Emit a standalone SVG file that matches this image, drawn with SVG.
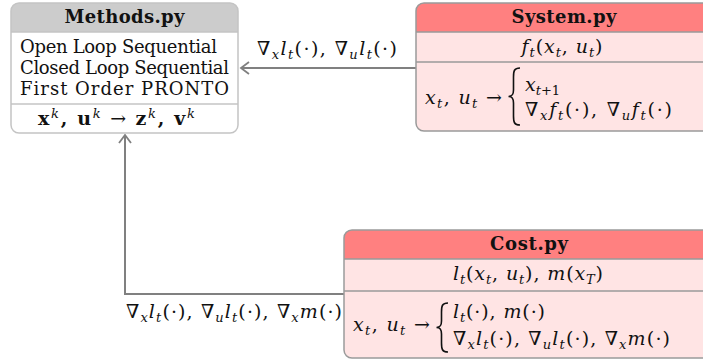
<svg xmlns="http://www.w3.org/2000/svg" width="703" height="363" viewBox="0 0 703 363">
<style>
text{font-family:"DejaVu Serif","Liberation Serif",serif;fill:#111}
.t{font-size:18px}
.h{font-size:18px;font-weight:bold}
.m{font-size:19px}
.i{font-style:italic}
.s{font-size:13px}
.b{font-weight:bold}
.conn{fill:none;stroke:#808080;stroke-width:2}
.brace{fill:none;stroke:#111;stroke-width:1.6}
.gb{stroke:#c4c4c4;stroke-width:1.5}
.rb{stroke:#9a9a9a;stroke-width:1.5}
</style>
<defs>
<marker id="ah" viewBox="-10 -7 12 14" markerWidth="12" markerHeight="14" refX="0" refY="0" orient="auto" markerUnits="userSpaceOnUse">
<path d="M-8,-6 L0,0 L-8,6" fill="none" stroke="#808080" stroke-width="1.8"/>
</marker>
</defs>

<g id="connectors">
<path class="conn" d="M416,68 H241" marker-end="url(#ah)"/>
<path class="conn" d="M344,294 H125 V135" marker-end="url(#ah)"/>
<text class="m" x="327" y="55" text-anchor="middle" textLength="140">∇<tspan class="s i" dy="4">x</tspan><tspan class="i" dy="-4">l</tspan><tspan class="s i" dy="4">t</tspan><tspan dy="-4">(·), ∇</tspan><tspan class="s i" dy="4">u</tspan><tspan class="i" dy="-4">l</tspan><tspan class="s i" dy="4">t</tspan><tspan dy="-4">(·)</tspan></text>
<text class="m" x="126" y="318" textLength="216">∇<tspan class="s i" dy="4">x</tspan><tspan class="i" dy="-4">l</tspan><tspan class="s i" dy="4">t</tspan><tspan dy="-4">(·), ∇</tspan><tspan class="s i" dy="4">u</tspan><tspan class="i" dy="-4">l</tspan><tspan class="s i" dy="4">t</tspan><tspan dy="-4">(·), ∇</tspan><tspan class="s i" dy="4">x</tspan><tspan class="i" dy="-4">m</tspan><tspan>(·)</tspan></text>
</g>

<g id="methods">
<rect x="11" y="3" width="227" height="130" rx="8" fill="#fff"/>
<path d="M11,32 V11 A8,8 0 0 1 19,3 H230 A8,8 0 0 1 238,11 V32 Z" fill="#cccccc"/>
<line class="gb" x1="11" y1="32" x2="238" y2="32"/>
<line class="gb" x1="11" y1="104" x2="238" y2="104"/>
<rect class="gb" x="11" y="3" width="227" height="130" rx="8" fill="none"/>
<text class="h" x="124.5" y="23" text-anchor="middle" textLength="120">Methods.py</text>
<text class="t" x="20" y="53" textLength="197">Open Loop Sequential</text>
<text class="t" x="20" y="74" textLength="209">Closed Loop Sequential</text>
<text class="t" x="20" y="95" textLength="209">First Order PRONTO</text>
<text class="m" x="38" y="125" textLength="157"><tspan class="b">x</tspan><tspan class="s i" dy="-7">k</tspan><tspan class="b" dy="7">, u</tspan><tspan class="s i" dy="-7">k</tspan><tspan dy="7"> → </tspan><tspan class="b">z</tspan><tspan class="s i" dy="-7">k</tspan><tspan class="b" dy="7">, v</tspan><tspan class="s i" dy="-7">k</tspan></text>
</g>

<g id="system">
<rect x="416" y="3" width="296" height="128" rx="8" fill="#ffe4e4"/>
<path d="M416,32 V11 A8,8 0 0 1 424,3 H704 A8,8 0 0 1 712,11 V32 Z" fill="#ff8080"/>
<line class="rb" x1="416" y1="32" x2="712" y2="32"/>
<line class="rb" x1="416" y1="62" x2="712" y2="62"/>
<rect class="rb" x="416" y="3" width="296" height="128" rx="8" fill="none"/>
<text class="h" x="564" y="23" text-anchor="middle" textLength="105">System.py</text>
<text class="m" x="562" y="53" text-anchor="middle" textLength="81"><tspan class="i">f</tspan><tspan class="s i" dy="4">t</tspan><tspan dy="-4">(</tspan><tspan class="i">x</tspan><tspan class="s i" dy="4">t</tspan><tspan dy="-4">, </tspan><tspan class="i">u</tspan><tspan class="s i" dy="4">t</tspan><tspan dy="-4">)</tspan></text>
<text class="m" x="425" y="104" textLength="77"><tspan class="i">x</tspan><tspan class="s i" dy="4">t</tspan><tspan dy="-4">, </tspan><tspan class="i">u</tspan><tspan class="s i" dy="4">t</tspan><tspan dy="-4"> →</tspan></text>
<path class="brace" d="M520,68 C514,68 513.5,71 513.5,77 V90 C513.5,95 512,96.5 508.5,96.5 C512,96.5 513.5,98 513.5,103 V116 C513.5,122 514,125 520,125"/>
<text class="m" x="525" y="91"><tspan class="i">x</tspan><tspan class="s" dy="4"><tspan class="i">t</tspan>+1</tspan></text>
<text class="m" x="525" y="116" textLength="147">∇<tspan class="s i" dy="4">x</tspan><tspan class="i" dy="-4">f</tspan><tspan class="s i" dy="4">t</tspan><tspan dy="-4">(·), ∇</tspan><tspan class="s i" dy="4">u</tspan><tspan class="i" dy="-4">f</tspan><tspan class="s i" dy="4">t</tspan><tspan dy="-4">(·)</tspan></text>
</g>

<g id="cost">
<rect x="344" y="230" width="370" height="128" rx="8" fill="#ffe4e4"/>
<path d="M344,259 V238 A8,8 0 0 1 352,230 H706 A8,8 0 0 1 714,238 V259 Z" fill="#ff8080"/>
<line class="rb" x1="344" y1="259" x2="714" y2="259"/>
<line class="rb" x1="344" y1="291" x2="714" y2="291"/>
<rect class="rb" x="344" y="230" width="370" height="128" rx="8" fill="none"/>
<text class="h" x="529" y="250" text-anchor="middle" textLength="78">Cost.py</text>
<text class="m" x="528" y="280" text-anchor="middle" textLength="150"><tspan class="i">l</tspan><tspan class="s i" dy="4">t</tspan><tspan dy="-4">(</tspan><tspan class="i">x</tspan><tspan class="s i" dy="4">t</tspan><tspan dy="-4">, </tspan><tspan class="i">u</tspan><tspan class="s i" dy="4">t</tspan><tspan dy="-4">), </tspan><tspan class="i">m</tspan><tspan>(</tspan><tspan class="i">x</tspan><tspan class="s i" dy="4">T</tspan><tspan dy="-4">)</tspan></text>
<text class="m" x="353" y="331" textLength="77"><tspan class="i">x</tspan><tspan class="s i" dy="4">t</tspan><tspan dy="-4">, </tspan><tspan class="i">u</tspan><tspan class="s i" dy="4">t</tspan><tspan dy="-4"> →</tspan></text>
<path class="brace" d="M448,303 C442,303 441.5,306 441.5,312 V321 C441.5,326 440,327.5 436.5,327.5 C440,327.5 441.5,329 441.5,334 V343 C441.5,349 442,352 448,352"/>
<text class="m" x="453" y="318" textLength="92"><tspan class="i">l</tspan><tspan class="s i" dy="4">t</tspan><tspan dy="-4">(·), </tspan><tspan class="i">m</tspan><tspan>(·)</tspan></text>
<text class="m" x="453" y="345" textLength="217">∇<tspan class="s i" dy="4">x</tspan><tspan class="i" dy="-4">l</tspan><tspan class="s i" dy="4">t</tspan><tspan dy="-4">(·), ∇</tspan><tspan class="s i" dy="4">u</tspan><tspan class="i" dy="-4">l</tspan><tspan class="s i" dy="4">t</tspan><tspan dy="-4">(·), ∇</tspan><tspan class="s i" dy="4">x</tspan><tspan class="i" dy="-4">m</tspan><tspan>(·)</tspan></text>
</g>
</svg>
